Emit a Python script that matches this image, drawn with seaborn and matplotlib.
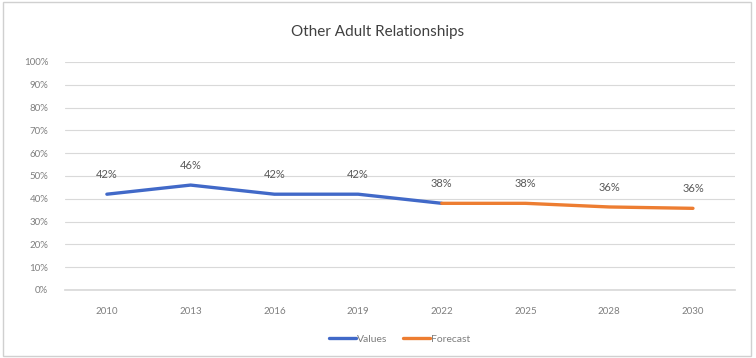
import matplotlib.pyplot as plt
import matplotlib.patches as mpatches
import seaborn as sns
import pandas as pd

# data
years = ['2010', '2013', '2016', '2019', '2022', '2025', '2028', '2030']
values = [42, 46, 42, 42, 38]            # 2010-2022
forecast = [38, 38, 36.4, 35.8]          # 2022-2030
value_labels = ['42%', '46%', '42%', '42%', '38%']
forecast_labels = ['38%', '36%', '36%']  # 2025, 2028, 2030
title = 'Other Adult Relationships'

sns.set_theme(style='white')
plt.rcParams['font.family'] = ['Lato', 'DejaVu Sans']

pos = list(range(len(years)))
df_val = pd.DataFrame({'x': pos[:5], 'y': values, 'series': 'Values'})
df_fc = pd.DataFrame({'x': pos[4:], 'y': forecast, 'series': 'Forecast'})
df = pd.concat([df_val, df_fc], ignore_index=True)

fig = plt.figure(figsize=(7.56, 3.58), dpi=100)
ax = fig.add_axes([0.086, 0.19, 0.886, 0.637])

sns.lineplot(data=df, x='x', y='y', hue='series',
             palette={'Values': '#4169C8', 'Forecast': '#ED7D31'},
             linewidth=2.4, ax=ax, legend=True)

# data labels
txt_color = '#595959'
for x, y, s in zip(df_val['x'], df_val['y'], value_labels):
    ax.annotate(s, (x, y), xytext=(0, 10), textcoords='offset points',
                ha='center', va='bottom', fontsize=8, color=txt_color)
for x, y, s in zip(df_fc['x'][1:], df_fc['y'][1:], forecast_labels):
    ax.annotate(s, (x, y), xytext=(0, 10), textcoords='offset points',
                ha='center', va='bottom', fontsize=8, color=txt_color)

ax.set_xlim(-0.5, len(years) - 0.5)
ax.set_ylim(0, 100)
ax.set_yticks(range(0, 101, 10))
ax.set_yticklabels([f'{v}%' for v in range(0, 101, 10)])
ax.set_xticks(pos)
ax.set_xticklabels(years)
ax.tick_params(axis='both', labelsize=7, colors='#7f7f7f', length=0)
ax.tick_params(axis='x', pad=12)
ax.tick_params(axis='y', pad=12)
ax.grid(axis='y', color='#d9d9d9', linewidth=0.8)
ax.set_axisbelow(True)
for sp in ax.spines.values():
    sp.set_visible(False)
ax.spines['bottom'].set_visible(True)
ax.spines['bottom'].set_color('#d9d9d9')
ax.set_xlabel('')
ax.set_ylabel('')

fig.suptitle(title, y=0.93, fontsize=11, color='#404040')

leg = ax.legend(loc='upper center', bbox_to_anchor=(0.5, -0.155), ncol=2,
                frameon=False, fontsize=7.5, handlelength=2.6,
                columnspacing=1.5, handletextpad=0.1)
for t in leg.get_texts():
    t.set_color('#7f7f7f')

# chart border
fig.patches.append(mpatches.Rectangle((0.004, 0.006), 0.99, 0.988,
                                      transform=fig.transFigure, fill=False,
                                      edgecolor='#d0d0d0', linewidth=1))

fig.savefig('out.png', dpi=100)
